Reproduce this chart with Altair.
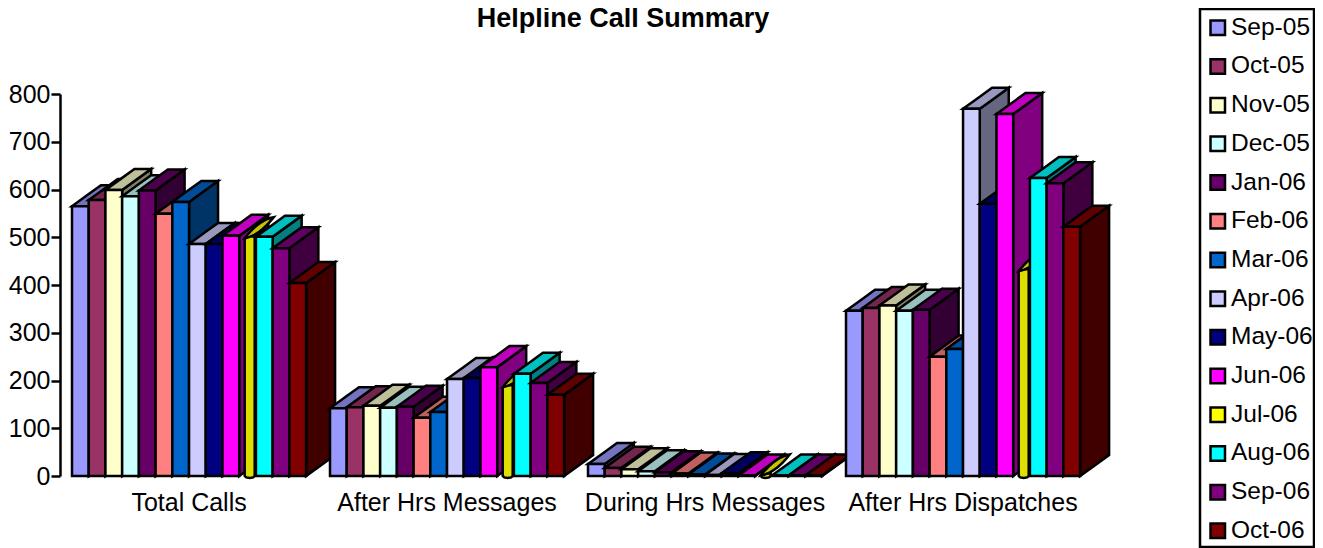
import altair as alt
import pandas as pd

months = ["Sep-05","Oct-05","Nov-05","Dec-05","Jan-06","Feb-06","Mar-06","Apr-06","May-06","Jun-06","Jul-06","Aug-06","Sep-06","Oct-06"]
colors = ["#9999FF","#993366","#FFFFCC","#CCFFFF","#660066","#FF8080","#0066CC","#CCCCFF","#000080","#FF00FF","#FFFF00","#00FFFF","#800080","#800000"]
categories = ["Total Calls","After Hrs Messages","During Hrs Messages","After Hrs Dispatches"]
total_calls = [565,578,599,586,598,549,574,486,486,503,498,501,477,404]
after_msgs = [142,144,147,143,145,122,134,203,205,228,186,214,195,170]
during_msgs = [25,17,14,10,8,5,3,2,6,1,1,1,1,1]
after_disp = [346,352,357,346,348,250,266,769,570,758,429,624,613,522]
series_by_cat = [total_calls, after_msgs, during_msgs, after_disp]

FONT = "Liberation Sans"
PLOT_W, PLOT_H = 1130, 382
SLOT = 16.72       # bar width, in x-scale units
GROUP = 258.0      # category spacing
START = 12.0
DX = 29.0          # depth shift on x
DY = 44.0          # depth shift in value units
PX = 800 / PLOT_H  # value units per pixel
SW = 2.5


def shade(hexcol, f):
    r, g, b = (int(hexcol[i:i + 2], 16) for i in (1, 3, 5))
    return "#%02X%02X%02X" % (round(r * f), round(g * f), round(b * f))


rows = []
fid = 0


def face(fill, pts):
    global fid
    for x, y, y2 in pts:
        rows.append({"fid": fid, "x": x, "y": y, "y2": y2, "fill": fill})
    fid += 1


for c, vals in enumerate(series_by_cat):
    for s, v in enumerate(vals):
        col = colors[s]
        x0 = START + GROUP * c + SLOT * s
        x1 = x0 + SLOT
        if months[s] == "Jul-06":
            # cylinder series: narrow round body with a lens-shaped top
            xl, xr = x0 + 5.5, x0 + 15.5
            b = 2.0 * PX
            face("#DEDE00", [(xl, v, 0), (xl + 1.5, v + 0.5 * b, -0.7 * b), (xl + 5, v + b, -b),
                             (xr - 1.5, v + b, -0.7 * b), (xr, v + b, 0)])
            n = 12
            lens = []
            for i in range(n + 1):
                t = i / n
                h = 4.0 * PX * (1 - (2 * t - 1) ** 2)
                lens.append((xl + DX * t, v + DY * t + h, v + DY * t - h))
            face(shade(col, 0.77), lens)
            continue
        # side face
        face(shade(col, 0.5), [(x1, v, 0), (x1 + DX, v + DY, DY)])
        # top face
        face(shade(col, 0.75), [(x0, v, v), (x1, v + DY * SLOT / DX, v),
                                (x0 + DX, v + DY, v + DY * (DX - SLOT) / DX),
                                (x1 + DX, v + DY, v + DY)])
        # front face
        face(col, [(x0, v, 0), (x1, v, 0)])

faces = pd.DataFrame(rows)
faces["fid"] = faces["fid"].map(lambda i: f"f{i:04d}")
xs = alt.Scale(domain=[0, PLOT_W])
ys = alt.Scale(domain=[0, 800])
y_axis = alt.Axis(values=list(range(0, 801, 100)), grid=False, domainColor="black", domainWidth=SW,
                  tickColor="black", tickWidth=SW, tickSize=9, labelFont=FONT, labelFontSize=25,
                  labelColor="black", labelPadding=1, title=None)

bars = alt.Chart(faces).mark_area(stroke="black", strokeWidth=SW, orient="vertical", strokeJoin="miter", line=False).encode(
    x=alt.X("x:Q", scale=xs, axis=None),
    y=alt.Y("y:Q", scale=ys, axis=y_axis),
    y2="y2:Q",
    fill=alt.Fill("fill:N", scale=None),
    detail="fid:N",
)

frame = alt.Chart(pd.DataFrame({"a": [0]})).mark_rect(fill="white", stroke="black", strokeWidth=SW).encode(
    x=alt.value(1140), x2=alt.value(1254), y=alt.value(-85), y2=alt.value(453),
)

legend_df = pd.DataFrame({"month": months, "x": [0.0] * len(months), "y": [0.0] * len(months)})
legend_layer = alt.Chart(legend_df).mark_rect(strokeWidth=0).encode(
    x=alt.X("x:Q", scale=xs, axis=None),
    x2="x:Q",
    y=alt.Y("y:Q", scale=ys, axis=y_axis),
    y2="y:Q",
    color=alt.Color("month:N", scale=alt.Scale(domain=months, range=colors), sort=months,
                    legend=alt.Legend(title=None, orient="none", legendX=1140, legendY=-84, padding=5.5,
                                      symbolType="square", symbolSize=210, symbolStrokeColor="black",
                                      symbolStrokeWidth=SW, symbolOpacity=1, labelFont=FONT, labelFontSize=24.5,
                                      labelColor="black", labelOffset=1, rowPadding=12.7)),
)

label_df = pd.DataFrame({"label": categories,
                         "x": [START + GROUP * i + SLOT * 7 for i in range(len(categories))]})
labels = alt.Chart(label_df).mark_text(font=FONT, fontSize=25, color="black", baseline="middle").encode(
    x=alt.X("x:Q", scale=xs, axis=None),
    y=alt.value(PLOT_H + 27),
    text="label:N",
)

title = alt.Chart(pd.DataFrame({"t": ["Helpline Call Summary"]})).mark_text(
    font=FONT, fontSize=27, fontWeight="bold", color="black", baseline="middle").encode(
    x=alt.value(563), y=alt.value(-75), text="t:N",
)

chart = alt.layer(frame, legend_layer, bars, labels, title).properties(
    width=PLOT_W, height=PLOT_H,
    autosize=alt.AutoSizeParams(type="none"),
    padding={"left": 52, "top": 86, "right": 125, "bottom": 72},
).configure_view(stroke=None)

chart.save("out.html", embed_options={"renderer": "svg", "actions": False})
